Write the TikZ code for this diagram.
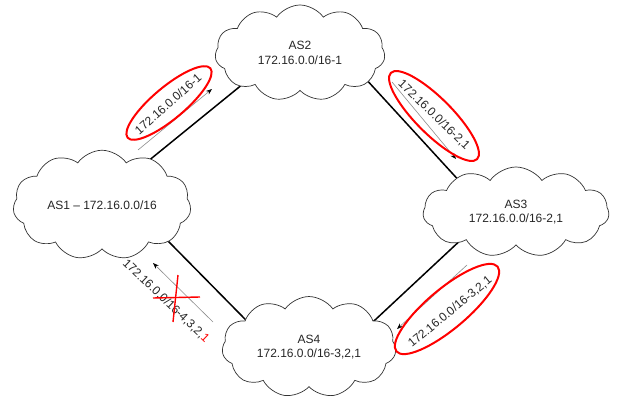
\documentclass[tikz,border=0pt]{standalone}
\usepackage{fontspec}
\setmainfont{Liberation Sans}
\usetikzlibrary{shapes.symbols,shapes.geometric,arrows.meta,calc,backgrounds}
\begin{document}
\begin{tikzpicture}[x=1pt,y=-1pt,
  as/.style={cloud, cloud puffs=11, cloud puff arc=110, draw=black!80, line width=0.7pt, fill=white, align=center, font=\fontsize{12}{14.5}\selectfont, inner sep=0pt, text=black!85},
  link/.style={line width=1.5pt, black},
  ann/.style={draw=black!45, line width=0.6pt, -{Stealth[black, length=6pt, width=4.5pt]}},
  lbl/.style={font=\fontsize{12}{14}\selectfont, inner sep=0pt, text=black!85},
  hand/.style={ellipse, draw=red, line width=2pt, inner sep=0pt},
  xmark/.style={red, line width=1.4pt}]
\useasboundingbox (0,0) rectangle (628,406);
% clouds
\node[as, aspect=1.71, minimum width=178pt, minimum height=104pt] (as1) at (102,205) {AS1 -- 172.16.0.0/16};
\node[as, aspect=1.77, minimum width=170pt, minimum height=96pt] (as2) at (300,53) {AS2\\172.16.0.0/16-1};
\node[as, aspect=2.07, minimum width=186pt, minimum height=90pt] (as3) at (516,212) {AS3\\172.16.0.0/16-2,1};
\node[as, aspect=1.78, minimum width=174pt, minimum height=98pt] (as4) at (309,347) {AS4\\172.16.0.0/16-3,2,1};
% links (run behind the clouds, which hide their inner parts)
\begin{scope}[on background layer]
\draw[link] ($(as1)+(17.7,-20.8)$) -- ($(as2)+(-34.7,12.8)$);
\draw[link] ($(as2)+(51.9,10.8)$) -- ($(as3)+(-40.9,-13.8)$);
\draw[link] ($(as3)+(-43.5,17)$) -- ($(as4)+(43.5,-6)$);
\draw[link] ($(as1)+(47.6,17.3)$) -- ($(as4)+(-50.6,-14.3)$);
\end{scope}
% announcement arrows
\coordinate (a1s) at (138,150); \coordinate (a1e) at (212,89);
\coordinate (a2s) at (392,82);  \coordinate (a2e) at (456,159);
\coordinate (a3s) at (467,265); \coordinate (a3e) at (397,329);
\coordinate (a4s) at (213,322); \coordinate (a4e) at (153,263);
\draw[ann] (a1s) -- (a1e);
\draw[ann] (a2s) -- (a2e);
\draw[ann] (a3s) -- (a3e);
\draw[ann] (a4s) -- (a4e);
% labels
\node[lbl, rotate=41.7] (t1) at (168,104) {172.16.0.0/16-1};
\node[lbl, rotate=-44] (t2) at (434,115) {172.16.0.0/16-2,1};
\node[lbl, rotate=39.5] (t3) at (450,312) {172.16.0.0/16-3,2,1};
\node[lbl, rotate=-43.6] (t4) at (166,301) {172.16.0.0/16-4,3,2,{\color{red}1}};
% red hand-drawn marks
\node[hand, rotate=40, minimum width=108pt, minimum height=32pt] (c1) at (169,103) {};
\node[hand, rotate=-45, minimum width=122pt, minimum height=36pt] (c2) at (434,116) {};
\node[hand, rotate=40, minimum width=132pt, minimum height=40pt] (c3) at (447,309) {};
\draw[xmark] (153,298) -- (200,297);
\draw[xmark] (178,275) -- (173,322);
\end{tikzpicture}
\end{document}
